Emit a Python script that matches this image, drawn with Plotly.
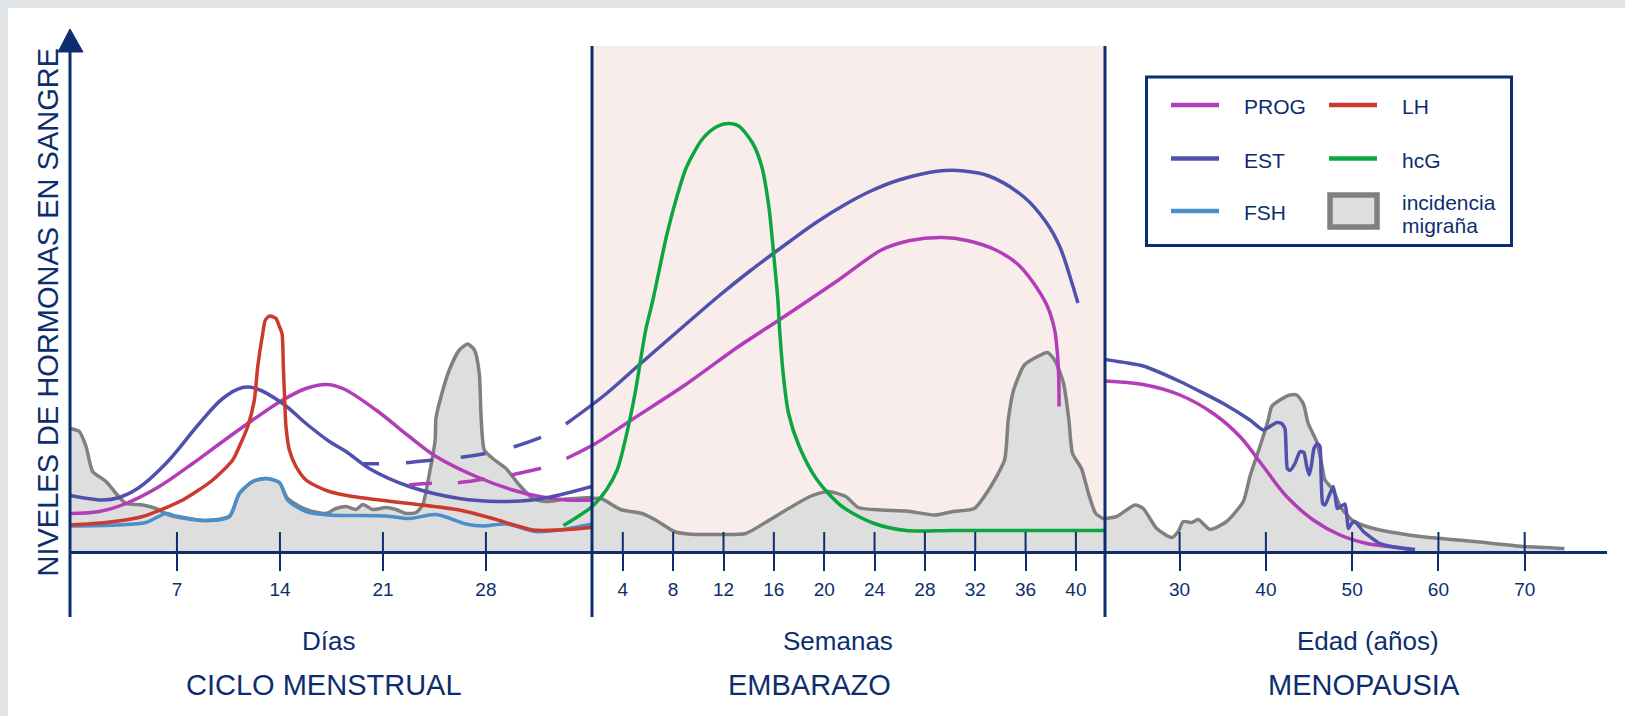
import plotly.graph_objects as go

# ---------------- DATA ----------------
# Panel 1 - CICLO MENSTRUAL (x = días, y = nivel relativo)
day_ticks = [7, 14, 21, 28]
est_cycle_day = [-0.27, 1.95, 3.08, 4.33, 6.25, 8.52, 10.11, 11.47, 12.37, 14.19, 15.77, 17.36, 18.49, 20.07, 22.79, 26.19, 28.91, 31.18, 32.99, 35.21]
est_cycle_val = [11.1, 10.2, 10.7, 12.5, 17.5, 25.5, 30.5, 32.7, 32.5, 29.5, 25.5, 21.9, 19.9, 16.5, 12.9, 10.5, 9.9, 10.2, 11.2, 12.9]
prog_cycle_day = [-0.27, 1.72, 3.53, 5.8, 8.07, 10.11, 12.15, 14.19, 15.77, 17.13, 18.27, 20.53, 22.79, 24.61, 27.33, 29.82, 31.63, 33.45, 35.21]
prog_cycle_val = [7.5, 7.9, 9.5, 12.9, 17.5, 21.9, 26.2, 30.2, 32.5, 33.3, 32.5, 28.2, 22.9, 18.9, 14.9, 12.2, 10.9, 10.2, 10.2]
lh_cycle_day = [-0.27, 2.18, 4.67, 7.39, 9.43, 10.79, 11.24, 11.81, 12.26, 12.49, 12.83, 13.01, 13.32, 13.73, 13.96, 14.14, 14.23, 14.32, 14.41, 14.64, 15.09, 15.77, 16.68, 17.36, 18.94, 22.79, 26.19, 28.46, 31.18, 32.99, 35.21]
lh_cycle_val = [5.2, 5.7, 6.9, 10.2, 14.2, 18.2, 20.9, 24.9, 30.2, 36.9, 43.5, 46.2, 47.0, 46.5, 44.9, 43.5, 36.9, 30.2, 24.9, 20.2, 16.9, 14.2, 12.7, 11.9, 10.9, 9.5, 8.2, 6.5, 4.2, 4.2, 4.7]
fsh_cycle_day = [-0.27, 2.86, 4.89, 6.25, 6.93, 8.97, 10.56, 11.24, 12.15, 13.05, 13.96, 14.52, 15.77, 17.36, 21.21, 22.79, 24.61, 26.65, 27.78, 29.37, 31.41, 32.99, 35.21]
fsh_cycle_val = [5.0, 5.2, 5.7, 7.5, 7.0, 6.1, 6.9, 11.5, 13.9, 14.5, 13.7, 10.2, 7.9, 7.2, 7.0, 6.5, 7.3, 5.4, 5.0, 5.4, 3.9, 4.2, 5.4]
mig_cycle_day = [-0.27, 0.36, 0.82, 1.27, 2.18, 2.86, 3.53, 4.67, 5.57, 6.48, 7.61, 8.97, 10.56, 11.24, 12.15, 13.05, 13.96, 14.52, 15.77, 17.13, 17.81, 18.49, 19.17, 19.63, 20.31, 21.21, 21.89, 22.57, 23.25, 23.7, 24.16, 24.55, 24.6, 24.95, 25.51, 26.19, 26.76, 27.22, 27.55, 27.67, 27.89, 28.46, 29.37, 30.27, 31.18, 32.09, 33.45, 35.21]
mig_cycle_val = [24.5, 23.9, 20.9, 15.9, 13.9, 11.5, 9.5, 9.2, 8.5, 7.2, 6.5, 6.1, 6.9, 11.5, 13.9, 14.5, 13.7, 10.5, 8.3, 7.5, 8.5, 8.9, 8.3, 9.3, 8.3, 8.7, 8.3, 7.5, 7.7, 9.2, 15.5, 22.2, 26.5, 30.9, 36.2, 40.2, 41.4, 40.2, 35.5, 26.9, 20.2, 18.5, 16.5, 13.2, 10.5, 9.9, 10.4, 10.7]
# dashed bridges towards pregnancy
est_bridge_day = [19.58, 20.73, 22.57, 24.38, 26.31, 28.01, 29.91, 31.75]
est_bridge_val = [17.46, 17.46, 17.66, 18.2, 18.74, 19.54, 20.86, 22.74]
prog_bridge_day = [22.77, 24.34, 26.08, 27.89, 29.71, 31.75]
prog_bridge_val = [13.2, 13.54, 13.66, 14.4, 15.2, 16.54]

# Panel 2 - EMBARAZO (x = semanas)
week_ticks = [4, 8, 12, 16, 20, 24, 28, 32, 36, 40]
hcg_week = [-0.71, 1.56, 2.69, 3.55, 4.26, 4.97, 5.82, 6.39, 7.52, 8.37, 9.08, 10.36, 11.49, 12.35, 13.2, 14.33, 15.04, 15.6, 16.03, 16.32, 16.46, 16.74, 17.17, 18.02, 19.44, 21.42, 23.98, 26.53, 30.22, 42.31]
hcg_val = [5.1, 8.9, 12.2, 16.2, 22.9, 31.5, 44.2, 50.2, 63.5, 71.5, 76.9, 82.5, 84.9, 85.5, 85.0, 81.5, 76.9, 68.9, 58.2, 50.2, 44.2, 35.5, 27.5, 20.9, 14.2, 8.9, 5.5, 4.1, 4.1, 4.1]
est_preg_week = [-0.52, 2.66, 5.28, 8.94, 11.72, 14.1, 17.2, 19.42, 21.73, 23.71, 25.94, 29.12, 31.11, 33.09, 35.87, 37.62, 38.73, 39.61, 40.16]
est_preg_val = [25.4, 31.4, 37.2, 45.2, 51.2, 56.0, 61.8, 65.8, 69.4, 72.0, 74.2, 76.0, 76.0, 75.0, 70.8, 65.8, 60.8, 54.2, 49.6]
prog_preg_week = [-0.48, 1.84, 4.68, 8.94, 13.2, 16.6, 21.14, 24.54, 26.82, 29.37, 31.35, 33.63, 35.32, 36.46, 37.74, 38.31, 38.53, 38.64, 38.66]
prog_preg_val = [18.5, 21.5, 26.2, 33.2, 40.9, 46.5, 54.2, 60.2, 62.1, 62.7, 62.1, 60.2, 57.5, 54.2, 48.9, 44.2, 39.5, 34.2, 28.9]
mig_preg_week = [1.55, 2.27, 3.83, 5.53, 6.67, 8.09, 9.22, 11.77, 13.76, 15.46, 17.17, 18.87, 20.29, 21.71, 22.7, 24.54, 26.53, 28.8, 30.22, 31.92, 33.06, 34.33, 34.62, 35.05, 35.9, 37.03, 37.74, 38.31, 39.02, 39.44, 39.73, 40.44, 41.0, 41.57, 42.31]
mig_preg_val = [10.5, 10.5, 8.3, 7.5, 6.1, 3.9, 3.4, 3.3, 3.5, 5.9, 8.5, 10.9, 11.9, 10.9, 8.7, 8.2, 8.0, 7.2, 7.9, 8.5, 12.2, 18.2, 26.2, 32.2, 37.2, 39.0, 39.7, 38.2, 33.5, 26.2, 19.5, 16.5, 11.5, 7.5, 6.3]

# Panel 3 - MENOPAUSIA (x = edad en años)
age_ticks = [30, 40, 50, 60, 70]
est_meno_age = [21.35, 25.78, 30.04, 35.06, 38.15, 39.7, 41.25, 41.83, 42.21, 42.33, 42.48, 42.79, 43.37, 43.95, 44.41, 44.73, 45.03, 45.31, 45.57, 45.96, 46.27, 46.39, 46.58, 46.85, 47.43, 47.81, 48.04, 48.27, 48.78, 49.17, 49.36, 49.55, 49.94, 50.32, 51.29, 53.22, 54.56, 57.27]
est_meno_val = [38.3, 37.0, 33.9, 29.5, 26.2, 24.2, 25.7, 25.5, 24.5, 20.9, 16.5, 16.1, 17.5, 19.9, 19.7, 16.9, 15.2, 17.5, 20.5, 21.5, 20.9, 15.5, 9.5, 9.2, 11.5, 12.9, 10.9, 8.5, 9.0, 9.4, 7.5, 4.5, 5.5, 5.9, 3.9, 1.5, 0.9, 0.2]
prog_meno_age = [21.35, 25.78, 30.04, 33.9, 36.99, 39.7, 42.41, 45.49, 48.59, 51.68, 53.22, 57.3]
prog_meno_val = [34.0, 33.3, 31.2, 27.5, 22.9, 16.9, 10.9, 6.2, 3.2, 1.5, 1.1, 0.3]
mig_meno_age = [21.35, 22.7, 24.82, 25.78, 27.34, 29.08, 29.84, 30.42, 31.39, 32.16, 33.52, 35.45, 37.38, 38.15, 39.31, 40.27, 40.67, 41.63, 42.79, 43.57, 44.33, 44.91, 45.88, 46.46, 46.85, 47.81, 48.59, 49.5, 50.13, 51.68, 53.22, 57.9, 64.15, 70.0, 74.6]
mig_meno_val = [6.5, 6.9, 9.2, 8.5, 4.5, 2.7, 3.9, 5.9, 5.7, 6.3, 4.3, 5.9, 9.9, 14.9, 20.9, 26.2, 28.9, 30.2, 31.2, 31.2, 29.5, 25.5, 21.9, 17.5, 14.2, 12.2, 9.0, 7.0, 6.0, 4.9, 4.2, 2.9, 1.9, 0.9, 0.5]

# Texts
y_title = "NIVELES DE HORMONAS EN SANGRE"
unit_labels = ["Días", "Semanas", "Edad (años)"]
phase_labels = ["CICLO MENSTRUAL", "EMBARAZO", "MENOPAUSIA"]
legend_names = ["PROG", "LH", "EST", "hcG", "FSH"]
legend_area_name = ["incidencia", "migraña"]

# ---------------- STYLE ----------------
NAVY = "#0d2e6e"
C_EST = "#5050ae"
C_PROG = "#b23db9"
C_LH = "#cc3a2e"
C_FSH = "#4b8fca"
C_HCG = "#0ba640"
C_MIG_LINE = "#808080"
C_MIG_FILL = "#dedede"
C_PINK = "#f8edeb"
PAGE_BG = "#e1e4e7"
FONT = "Liberation Sans, Arial, Helvetica, sans-serif"
legend_colors = [C_PROG, C_LH, C_EST, C_HCG, C_FSH]

# the figure sits at (8, 8) inside the page (default body margin)
W, H = 1625, 716
ML, MR, MT, MB = 62, 26, 21, 173
PW, PH = W - ML - MR, H - MT - MB
OFF = 8


def X(px):  # page pixel -> paper x
    return (px - OFF - ML) / PW


def Y(py):  # page pixel -> paper y
    return (H - MB - (py - OFF)) / PH


B1, B2, P2 = X(592), X(1105), X(560)

fig = go.Figure()


def line(xs, ys, color, axis, dash=None, smoothing=1.0, width=3.5):
    fig.add_trace(go.Scatter(
        x=xs, y=ys, mode="lines", xaxis=axis, yaxis="y",
        line=dict(color=color, width=width, shape="spline", smoothing=smoothing, dash=dash),
        hoverinfo="skip", showlegend=False))


def area(xs, ys, axis):
    fig.add_trace(go.Scatter(
        x=xs, y=ys, mode="lines", xaxis=axis, yaxis="y", fill="tozeroy",
        fillcolor=C_MIG_FILL,
        line=dict(color=C_MIG_LINE, width=3.5, shape="spline", smoothing=0.6),
        hoverinfo="skip", showlegend=False))


# Panel 1
area(mig_cycle_day, mig_cycle_val, "x")
line(fsh_cycle_day, fsh_cycle_val, C_FSH, "x", smoothing=0.8)
line(prog_cycle_day, prog_cycle_val, C_PROG, "x")
line(est_cycle_day, est_cycle_val, C_EST, "x")
line(est_bridge_day, est_bridge_val, C_EST, "x", dash="17px,27px,27px,28px,25px,29px,29px,40px")
line(prog_bridge_day, prog_bridge_val, C_PROG, "x", dash="23px,26px,27px,27px,31px,30px")
line(lh_cycle_day, lh_cycle_val, C_LH, "x", smoothing=0.7)
# Panel 2
area(mig_preg_week, mig_preg_val, "x2")
line(prog_preg_week, prog_preg_val, C_PROG, "x2", smoothing=0.8)
line(est_preg_week, est_preg_val, C_EST, "x2")
line(hcg_week, hcg_val, C_HCG, "x2", smoothing=0.8)
# Panel 3
area(mig_meno_age, mig_meno_val, "x3")
line(prog_meno_age, prog_meno_val, C_PROG, "x3")
line(est_meno_age, est_meno_val, C_EST, "x3", smoothing=0.5)

axis_common = dict(
    showgrid=False, zeroline=False, showline=True, linecolor=NAVY, linewidth=3,
    ticks="outside", ticklen=17, tickwidth=2, tickcolor=NAVY,
    tickfont=dict(size=19, color=NAVY, family=FONT), ticklabelstandoff=2,
    anchor="y", fixedrange=True,
)

fig.update_layout(
    width=W, height=H,
    margin=dict(l=ML, r=MR, t=MT, b=MB, autoexpand=False),
    paper_bgcolor="white", plot_bgcolor="rgba(0,0,0,0)",
    font=dict(family=FONT, color=NAVY),
    showlegend=False,
    xaxis=dict(domain=[0, B1], range=[-0.27, 35.21], tickvals=day_ticks,
               ticktext=[str(t) for t in day_ticks], **axis_common),
    xaxis2=dict(domain=[P2, B2], range=[-0.99, 42.31], tickvals=week_ticks,
                ticktext=[str(t) for t in week_ticks], **axis_common),
    xaxis3=dict(domain=[B2, 1], range=[21.35, 79.54], tickvals=age_ticks,
                ticktext=[str(t) for t in age_ticks], **axis_common),
    yaxis=dict(domain=[0, 1], range=[0, PH / 5], visible=False, fixedrange=True, anchor="x"),
)

shapes = []
# pregnancy background
shapes.append(dict(type="rect", xref="paper", yref="paper", x0=B1, x1=B2, y0=0, y1=Y(46),
                   fillcolor=C_PINK, line=dict(width=0), layer="below"))
# vertical separators & y axis
for xp, top in [(0, Y(52)), (B1, Y(46)), (B2, Y(46))]:
    shapes.append(dict(type="line", xref="paper", yref="paper", x0=xp, x1=xp, y0=Y(617), y1=top,
                       line=dict(color=NAVY, width=3)))
# arrow head
shapes.append(dict(type="path", xref="paper", yref="paper",
                   path=f"M {X(58)},{Y(52)} L {X(83)},{Y(52)} L {X(70)},{Y(29)} Z",
                   fillcolor=NAVY, line=dict(color=NAVY, width=1)))
# inner part of ticks (ticks cross the axis)
for ax, ticks in [("x", day_ticks), ("x2", week_ticks), ("x3", age_ticks)]:
    for t in ticks:
        shapes.append(dict(type="line", xref=ax, yref="paper", x0=t, x1=t, y0=0, y1=Y(532),
                           line=dict(color=NAVY, width=2)))

# custom legend
shapes.append(dict(type="rect", xref="paper", yref="paper", x0=X(1146.5), x1=X(1511.5),
                   y0=Y(245.5), y1=Y(77), fillcolor="white", line=dict(color=NAVY, width=3)))
annotations = []
leg_pos = [(1171, 1242, 105), (1329, 1400, 105), (1171, 1242, 158.5), (1329, 1400, 158.5), (1171, 1242, 211)]
for name, col, (lx, tx, ly) in zip(legend_names, legend_colors, leg_pos):
    shapes.append(dict(type="line", xref="paper", yref="paper", x0=X(lx), x1=X(lx + 48),
                       y0=Y(ly), y1=Y(ly), line=dict(color=col, width=4.5)))
    annotations.append(dict(text=name, xref="paper", yref="paper", x=X(tx), y=Y(ly + 1.5),
                            xanchor="left", yanchor="middle", showarrow=False,
                            font=dict(size=21, color=NAVY, family=FONT)))
shapes.append(dict(type="rect", xref="paper", yref="paper", x0=X(1330), x1=X(1377),
                   y0=Y(227), y1=Y(195), fillcolor=C_MIG_FILL, line=dict(color=C_MIG_LINE, width=5.5)))
for txt, ty in zip(legend_area_name, [202, 226]):
    annotations.append(dict(text=txt, xref="paper", yref="paper", x=X(1400), y=Y(ty),
                            xanchor="left", yanchor="middle", showarrow=False,
                            font=dict(size=21, color=NAVY, family=FONT)))

# y title
annotations.append(dict(text=y_title, xref="paper", yref="paper", x=X(47.5), y=Y(312),
                        textangle=-90, xanchor="center", yanchor="middle", showarrow=False,
                        font=dict(size=29, color=NAVY, family=FONT)))
# bottom labels
for txt, cx in zip(unit_labels, [328.5, 837.5, 1368]):
    annotations.append(dict(text=txt, xref="paper", yref="paper", x=X(cx), y=Y(640.5),
                            xanchor="center", yanchor="middle", showarrow=False,
                            font=dict(size=26, color=NAVY, family=FONT)))
for txt, cx in zip(phase_labels, [323.5, 809.5, 1364]):
    annotations.append(dict(text=txt, xref="paper", yref="paper", x=X(cx), y=Y(684.5),
                            xanchor="center", yanchor="middle", showarrow=False,
                            font=dict(size=29, color=NAVY, family=FONT)))

fig.update_layout(shapes=shapes, annotations=annotations)

page_bg_css = (f"linear-gradient({PAGE_BG},{PAGE_BG}) left top / 100% 8px no-repeat, "
               f"linear-gradient({PAGE_BG},{PAGE_BG}) left top / 8px 100% no-repeat, white")
fig.write_html(
    "out.html",
    post_script=(f"document.documentElement.style.background='{page_bg_css}';"
                 "document.body.style.background='transparent';"
                 "document.documentElement.style.overflow='hidden';"
                 "document.body.style.overflow='hidden';"),
)
